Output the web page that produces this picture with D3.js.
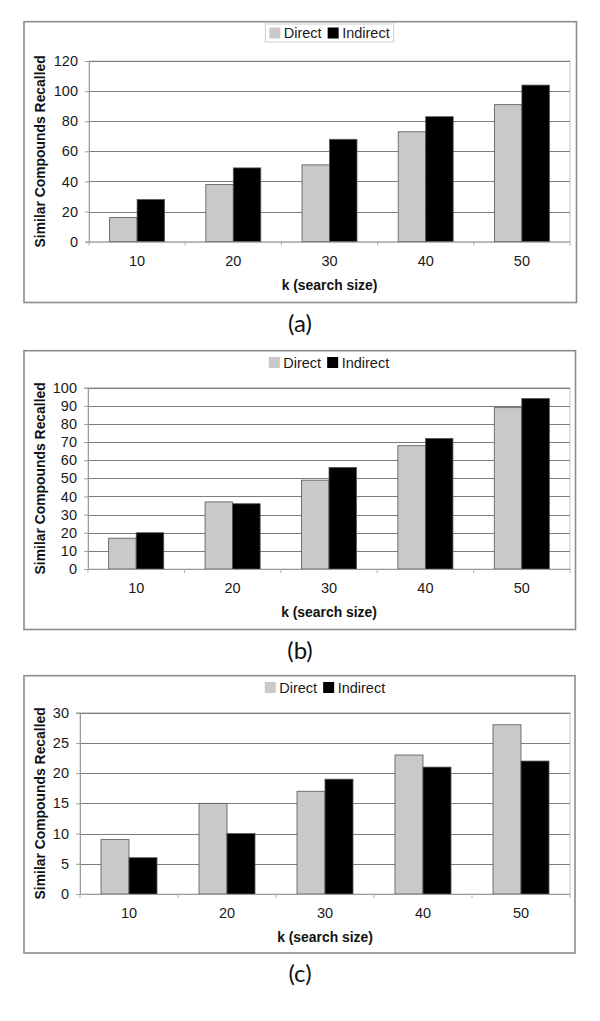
<!DOCTYPE html>
<html>
<head>
<meta charset="utf-8">
<script src="https://cdn.jsdelivr.net/npm/d3@7"></script>
<style>
  html, body { margin: 0; padding: 0; background: #fff; }
  svg { display: block; }
</style>
</head>
<body>
<svg id="chart" width="600" height="1021"></svg>
<script>
// ---------- data ----------
const categories = ["10", "20", "30", "40", "50"];
const seriesNames = ["Direct", "Indirect"];
const directA = [16, 38, 51, 73, 91];
const indirectA = [28, 49, 68, 83, 104];
const directB = [17, 37, 49, 68, 89];
const indirectB = [20, 36, 56, 72, 94];
const directC = [9, 15, 17, 23, 28];
const indirectC = [6, 10, 19, 21, 22];
const yTicksA = [0, 20, 40, 60, 80, 100, 120];
const yTicksB = [0, 10, 20, 30, 40, 50, 60, 70, 80, 90, 100];
const yTicksC = [0, 5, 10, 15, 20, 25, 30];
const panelLabels = ["(a)", "(b)", "(c)"];
const yTitle = "Similar Compounds Recalled";
const xTitle = "k (search size)";

// ---------- layout ----------
const panels = [
  { direct: directA, indirect: indirectA, ticks: yTicksA, label: panelLabels[0],
    frame: { x0: 24, x1: 576.5, y0: 21.7, y1: 302.5 },
    plot: { x0: 89, x1: 570, y0: 61, y1: 241.7 }, legendY: 33, legendBox: true },
  { direct: directB, indirect: indirectB, ticks: yTicksB, label: panelLabels[1],
    frame: { x0: 24, x1: 575.5, y0: 350.7, y1: 629.5 },
    plot: { x0: 88, x1: 570, y0: 387.7, y1: 569 }, legendY: 362.5, legendBox: false },
  { direct: directC, indirect: indirectC, ticks: yTicksC, label: panelLabels[2],
    frame: { x0: 24, x1: 575, y0: 675.7, y1: 953 },
    plot: { x0: 80, x1: 570, y0: 712.7, y1: 894 }, legendY: 687.5, legendBox: false }
];

const colors = { Direct: "#c9c9c9", Indirect: "#000000" };
const svg = d3.select("#chart");
const FONT = "'Liberation Sans', Arial, sans-serif";

panels.forEach(p => {
  const g = svg.append("g");

  // outer frame
  g.append("rect")
    .attr("x", p.frame.x0).attr("y", p.frame.y0)
    .attr("width", p.frame.x1 - p.frame.x0).attr("height", p.frame.y1 - p.frame.y0)
    .attr("fill", "#fff").attr("stroke", "#8c8c8c").attr("stroke-width", 1.6);

  const x = d3.scaleBand().domain(categories).range([p.plot.x0, p.plot.x1]).paddingInner(0).paddingOuter(0);
  const xs = d3.scaleBand().domain(seriesNames).range([0, x.bandwidth()]).paddingInner(0).paddingOuter(0.75);
  const y = d3.scaleLinear().domain([0, d3.max(p.ticks)]).range([p.plot.y1, p.plot.y0]);

  // plot area border (light)
  g.append("rect")
    .attr("x", p.plot.x0).attr("y", p.plot.y0)
    .attr("width", p.plot.x1 - p.plot.x0).attr("height", p.plot.y1 - p.plot.y0)
    .attr("fill", "none").attr("stroke", "#c4c4c4").attr("stroke-width", 1);

  // gridlines
  g.append("g").selectAll("line").data(p.ticks.filter(t => t > 0)).join("line")
    .attr("x1", p.plot.x0).attr("x2", p.plot.x1)
    .attr("y1", d => Math.round(y(d)) + 0.5).attr("y2", d => Math.round(y(d)) + 0.5)
    .attr("stroke", "#7d7d7d").attr("stroke-width", 1.2);

  // y axis
  const yAxis = d3.axisLeft(y).tickValues(p.ticks).tickSize(4).tickPadding(7).tickFormat(d3.format("d"));
  const ya = g.append("g").attr("transform", `translate(${p.plot.x0},0)`).call(yAxis);
  ya.select(".domain").attr("stroke", "#9a9a9a");
  ya.selectAll(".tick line").attr("stroke", "#9a9a9a");
  ya.selectAll(".tick text").attr("font-family", FONT).attr("font-size", 14.5).attr("fill", "#1a1a1a");

  // bars
  const rows = categories.map((c, i) => ({ cat: c, Direct: p.direct[i], Indirect: p.indirect[i] }));
  const groups = g.append("g").selectAll("g").data(rows).join("g")
    .attr("transform", d => `translate(${x(d.cat)},0)`);
  groups.selectAll("rect").data(d => seriesNames.map(s => ({ s, v: d[s] }))).join("rect")
    .attr("x", d => xs(d.s)).attr("width", xs.bandwidth())
    .attr("y", d => y(d.v)).attr("height", d => y(0) - y(d.v))
    .attr("fill", d => colors[d.s])
    .attr("stroke", "#555").attr("stroke-width", 0.8);

  // x axis
  const xAxis = d3.axisBottom(x).tickSize(0).tickPadding(14);
  const xa = g.append("g").attr("transform", `translate(0,${p.plot.y1})`).call(xAxis);
  xa.select(".domain").attr("stroke", "#9a9a9a");
  xa.selectAll(".tick text").attr("font-family", FONT).attr("font-size", 14.5).attr("fill", "#1a1a1a");
  // category boundary tick marks
  const bounds = categories.map(c => x(c)).concat([x(categories[categories.length - 1]) + x.bandwidth()]);
  g.append("g").selectAll("line").data(bounds).join("line")
    .attr("x1", d => d).attr("x2", d => d)
    .attr("y1", p.plot.y1).attr("y2", p.plot.y1 + 4)
    .attr("stroke", "#b0b0b0").attr("stroke-width", 1);

  // axis titles
  const yc = (p.plot.y0 + p.plot.y1) / 2;
  g.append("text")
    .attr("transform", `translate(${45},${yc}) rotate(-90)`)
    .attr("text-anchor", "middle")
    .attr("font-family", FONT).attr("font-weight", "bold").attr("font-size", 13.9)
    .attr("fill", "#111").text(yTitle);
  const xc = (p.plot.x0 + p.plot.x1) / 2;
  g.append("text")
    .attr("x", xc).attr("y", p.plot.y1 + 48)
    .attr("text-anchor", "middle")
    .attr("font-family", FONT).attr("font-weight", "bold").attr("font-size", 13.9)
    .attr("fill", "#111").text(xTitle);

  // legend
  const lg = g.append("g");
  const sq = 11;
  const items = lg.selectAll("g").data(seriesNames).join("g");
  const tmp = [];
  items.each(function(name) {
    const it = d3.select(this);
    it.append("rect").attr("x", 0).attr("y", -sq / 2).attr("width", sq).attr("height", sq)
      .attr("fill", colors[name]);
    const t = it.append("text").attr("x", sq + 3.5).attr("y", 0).attr("dy", "0.35em")
      .attr("font-family", FONT).attr("font-size", 14.5).attr("fill", "#1a1a1a").text(name);
    const w = sq + 3.5 + t.node().getComputedTextLength();
    tmp.push({ it, w });
  });
  const gap = 6;
  const totalW = d3.sum(tmp, d => d.w) + gap * (tmp.length - 1);
  let lx = xc - totalW / 2;
  tmp.forEach(d => { d.it.attr("transform", `translate(${lx},${p.legendY})`); lx += d.w + gap; });
  if (p.legendBox) {
    lg.insert("rect", ":first-child")
      .attr("x", xc - totalW / 2 - 4).attr("y", p.legendY - 9)
      .attr("width", totalW + 8).attr("height", 18)
      .attr("fill", "#fff").attr("stroke", "#d0d0d0").attr("stroke-width", 1);
  }

  // panel label
  svg.append("text")
    .attr("x", 300).attr("y", p.frame.y1 + 21).attr("dy", "0.35em")
    .attr("text-anchor", "middle")
    .attr("font-family", "Lato, 'Open Sans', sans-serif").attr("font-size", 24)
    .attr("fill", "#111").text(p.label);
});
</script>
</body>
</html>
